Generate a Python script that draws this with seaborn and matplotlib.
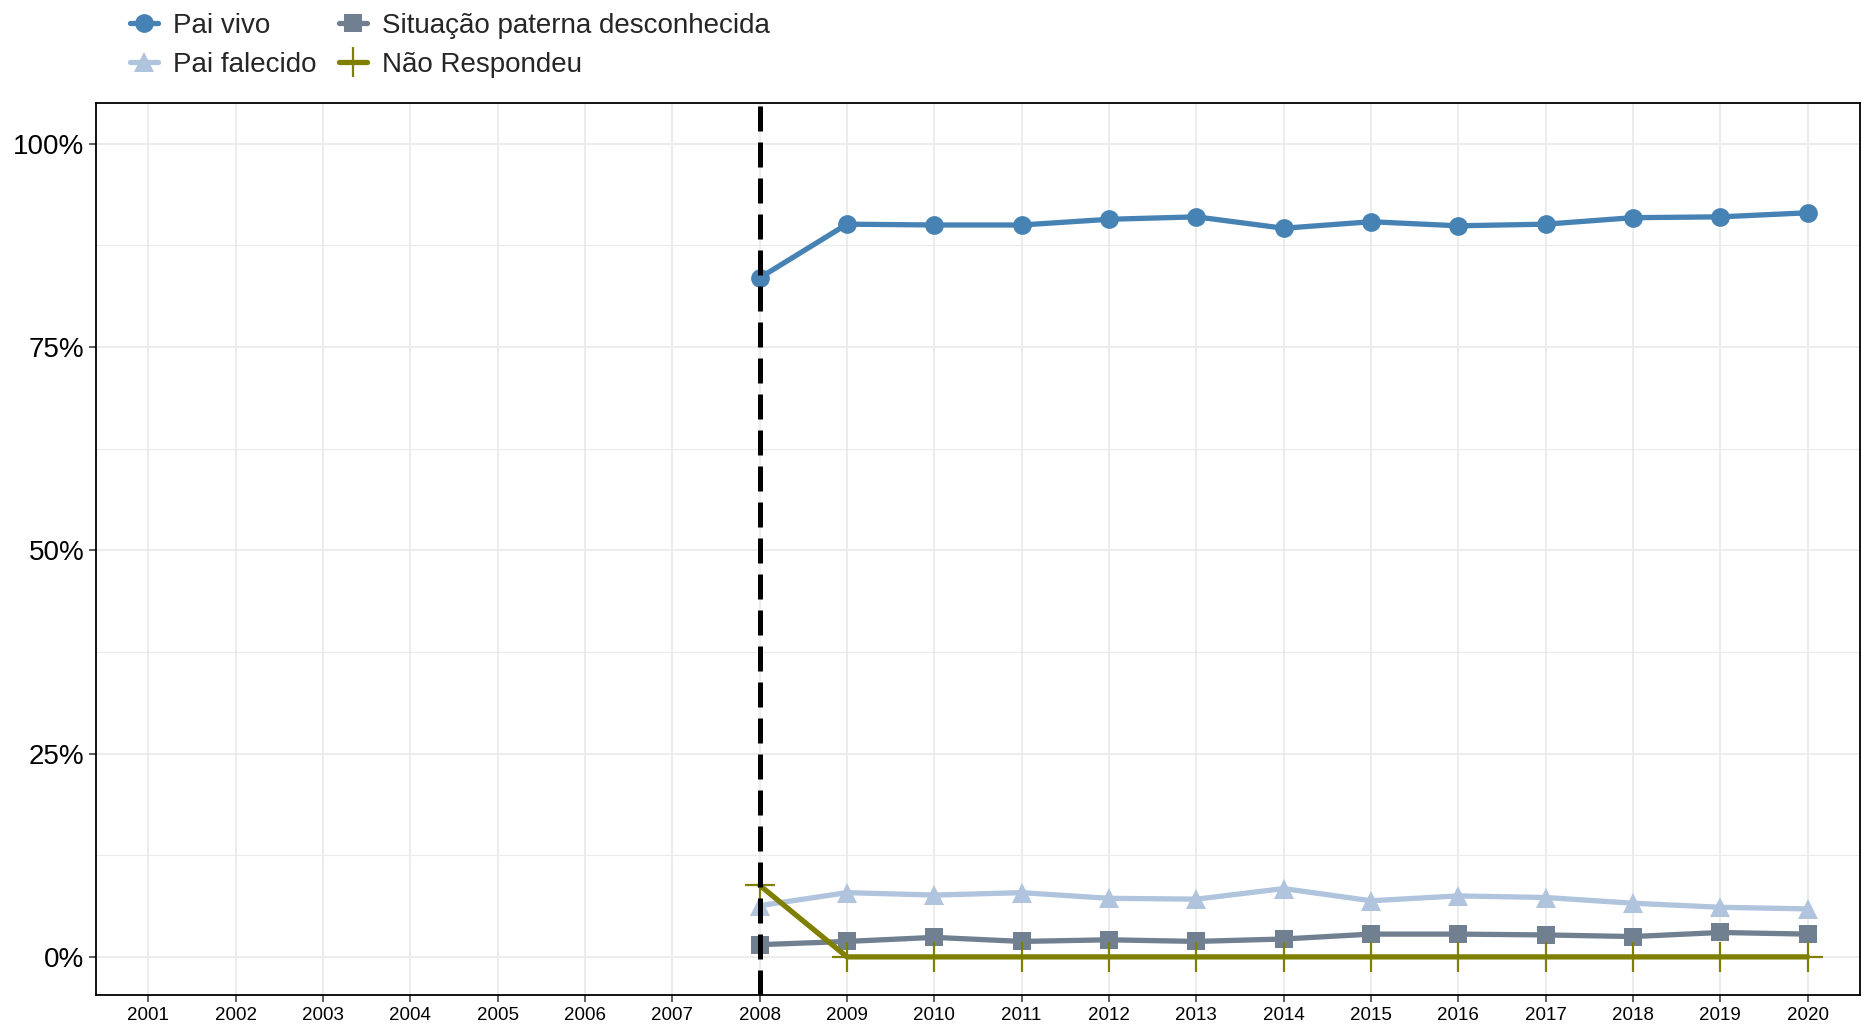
import matplotlib
matplotlib.use('Agg')
import matplotlib.pyplot as plt
import seaborn as sns
import pandas as pd
from matplotlib.lines import Line2D
from matplotlib.ticker import FixedLocator, FuncFormatter

# Data (percent)
anos = [2008, 2009, 2010, 2011, 2012, 2013, 2014, 2015, 2016, 2017, 2018, 2019, 2020]
pai_vivo = [83.5, 90.1, 90.0, 90.0, 90.7, 91.0, 89.6, 90.4, 89.9, 90.1, 90.9, 91.0, 91.5]
pai_falecido = [6.3, 7.9, 7.6, 7.9, 7.2, 7.1, 8.4, 6.9, 7.5, 7.3, 6.6, 6.1, 5.9]
situacao_desconhecida = [1.5, 1.9, 2.4, 1.9, 2.1, 1.9, 2.2, 2.8, 2.8, 2.7, 2.5, 3.0, 2.8]
nao_respondeu = [8.8, 0, 0, 0, 0, 0, 0, 0, 0, 0, 0, 0, 0]
anos_eixo = list(range(2001, 2021))
y_ticks = [0, 25, 50, 75, 100]

categorias = ['Pai vivo', 'Pai falecido', 'Situação paterna desconhecida', 'Não Respondeu']
cores = ['#4682B4', '#B0C4DE', '#708090', '#808000']
marcadores = ['o', '^', 's', '+']
tamanhos = [13.5, 15, 13, 22]
bordas = [0, 0, 0, 1.6]

df = pd.concat([
    pd.DataFrame({'ano': anos, 'valor': vals, 'categoria': cat})
    for cat, vals in zip(categorias, [pai_vivo, pai_falecido, situacao_desconhecida, nao_respondeu])
])

sns.set_style('white')
plt.rcParams['font.family'] = ['Liberation Sans', 'DejaVu Sans']

fig = plt.figure(figsize=(18.75, 10.28), dpi=100)
ax = fig.add_axes([0.0512, 0.032, 0.9408, 0.8678])

for cat, cor, mk, ms, mew in zip(categorias, cores, marcadores, tamanhos, bordas):
    sub = df[df['categoria'] == cat]
    sns.lineplot(data=sub, x='ano', y='valor', ax=ax, color=cor, marker=mk,
                 markersize=ms, markeredgewidth=mew, markeredgecolor=cor,
                 linewidth=3.8, legend=False, zorder=3)

ax.axvline(2008, color='black', linestyle=(0, (5, 2.2)), linewidth=3.6, zorder=4)

ax.set_xlim(2000.4, 2020.6)
ax.set_ylim(-4.7, 105)
ax.set_xticks(anos_eixo)
ax.set_xticklabels([str(a) for a in anos_eixo], fontsize=13.5)
ax.set_yticks(y_ticks)
ax.yaxis.set_major_formatter(FuncFormatter(lambda v, p: f'{v:.0f}%'))
ax.yaxis.set_minor_locator(FixedLocator([12.5, 37.5, 62.5, 87.5]))
ax.tick_params(axis='y', labelsize=20)
ax.tick_params(axis='both', which='major', length=5, width=1.1, color='#333333',
               direction='out', bottom=True, left=True, labelcolor='black')
ax.tick_params(axis='y', which='minor', length=0)

ax.grid(True, which='major', color='#EBEBEB', linewidth=1.3, zorder=0)
ax.grid(True, which='minor', axis='y', color='#EBEBEB', linewidth=0.8, zorder=0)
ax.set_axisbelow(True)
for s in ax.spines.values():
    s.set_color('black')
    s.set_linewidth(1.3)
ax.set_xlabel('')
ax.set_ylabel('')

handles = [Line2D([0], [0], color=c, marker=m, markersize=ms, markeredgewidth=mew,
                  markeredgecolor=c, linewidth=3.8)
           for c, m, ms, mew in zip(cores, marcadores, tamanhos, bordas)]
fig.legend(handles, categorias, loc='upper left', bbox_to_anchor=(0.056, 1.012),
           ncol=2, frameon=False, fontsize=20, handlelength=1.0,
           handletextpad=0.55, columnspacing=0.8, labelspacing=0.48)

fig.savefig('out.png', dpi=100)
